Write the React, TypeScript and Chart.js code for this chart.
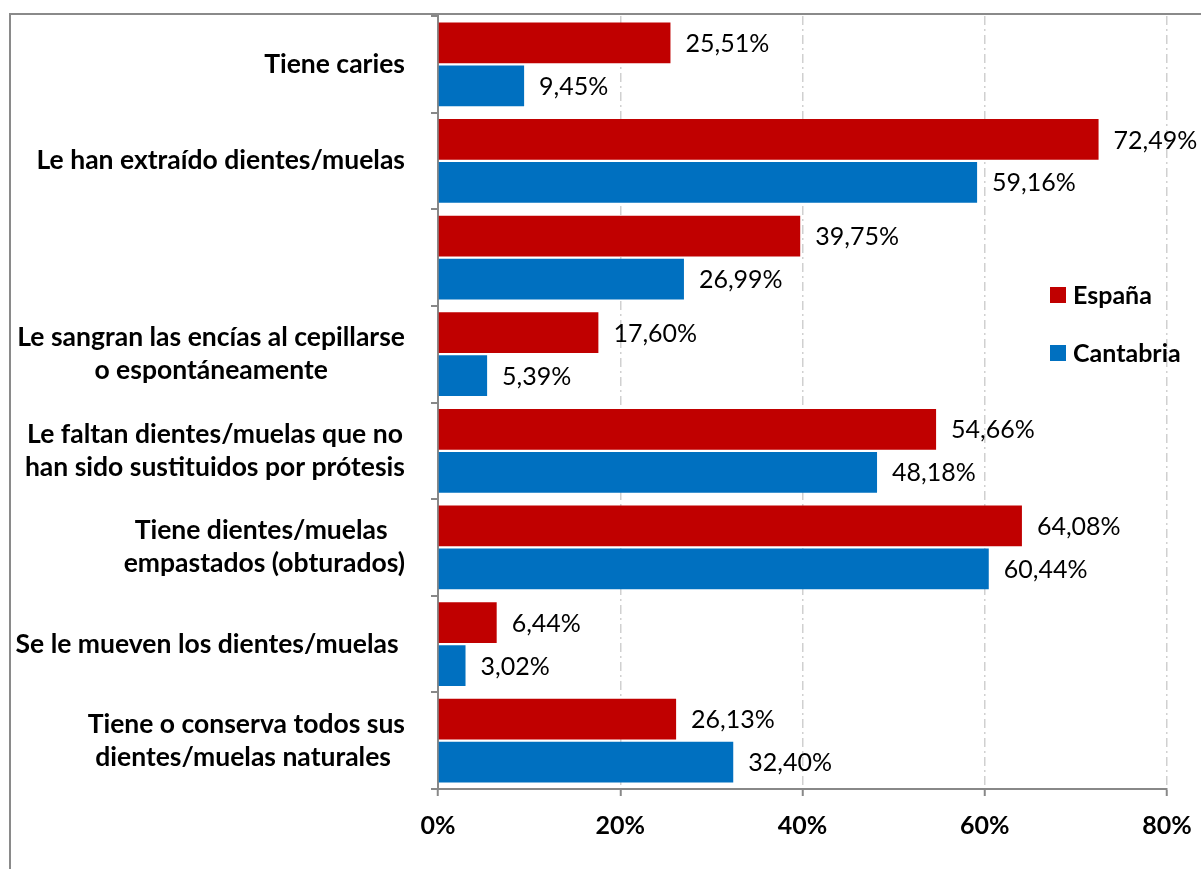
import React, { useEffect, useRef } from "react";
import { Chart, registerables } from "chart.js";

Chart.register(...registerables);

const categories: string[][] = [
  ["Tiene caries"],
  ["Le han extraído dientes/muelas"],
  [""],
  ["Le sangran las encías al cepillarse", "o espontáneamente"],
  ["Le faltan dientes/muelas que no", "han sido sustituidos por prótesis"],
  ["Tiene dientes/muelas ", "empastados (obturados)"],
  ["Se le mueven los dientes/muelas "],
  ["Tiene o conserva todos sus", "dientes/muelas naturales "],
];
const seriesNames = ["España", "Cantabria"];
const espana = [25.51, 72.49, 39.75, 17.6, 54.66, 64.08, 6.44, 26.13];
const cantabria = [9.45, 59.16, 26.99, 5.39, 48.18, 60.44, 3.02, 32.4];
const xMin = 0;
const xMax = 80;
const xStep = 20;

const RED = "#C00000";
const BLUE = "#0070C0";
const AXIS = "#888888";
const FONT = "Lato, 'Open Sans', sans-serif";

const fmt = (v: number) => v.toFixed(2).replace(".", ",") + "%";

const framePlugin = {
  id: "frame",
  beforeDraw(chart: any) {
    const ctx = chart.ctx;
    ctx.save();
    ctx.strokeStyle = "#8a8a8a";
    ctx.lineWidth = 2;
    ctx.beginPath();
    ctx.moveTo(10, chart.height);
    ctx.lineTo(10, 14);
    ctx.lineTo(chart.width, 14);
    ctx.stroke();
    ctx.restore();
  },
};

const yLabelPlugin = {
  id: "yLabels",
  afterDraw(chart: any) {
    const ctx = chart.ctx;
    const ys = chart.scales.y;
    ctx.save();
    ctx.font = `bold 26.5px ${FONT}`;
    ctx.fillStyle = "#000";
    ctx.textAlign = "center";
    ctx.textBaseline = "middle";
    const rightEdge = ys.right - 33;
    const lh = 33;
    (chart.data.labels as string[][]).forEach((lines, i) => {
      const yc = ys.getPixelForValue(i);
      const maxW = Math.max(...lines.map((l) => ctx.measureText(l).width));
      const cx = rightEdge - maxW / 2;
      lines.forEach((l, j) => {
        ctx.fillText(l, cx, yc + (j - (lines.length - 1) / 2) * lh);
      });
    });
    ctx.restore();
  },
};

const dataLabelPlugin = {
  id: "dataLabels",
  afterDatasetsDraw(chart: any) {
    const ctx = chart.ctx;
    ctx.save();
    ctx.font = `25px ${FONT}`;
    ctx.fillStyle = "#000";
    ctx.textAlign = "left";
    ctx.textBaseline = "middle";
    chart.data.datasets.forEach((ds: any, di: number) => {
      const meta = chart.getDatasetMeta(di);
      meta.data.forEach((bar: any, i: number) => {
        ctx.fillText(fmt(ds.data[i]), bar.x + 15, bar.y + 1);
      });
    });
    ctx.restore();
  },
};

const legendPlugin = {
  id: "customLegend",
  afterDraw(chart: any) {
    const ctx = chart.ctx;
    ctx.save();
    ctx.font = `bold 25px ${FONT}`;
    ctx.textAlign = "left";
    ctx.textBaseline = "middle";
    const x = 1050;
    const ys = [295, 353];
    chart.data.datasets.forEach((ds: any, i: number) => {
      ctx.fillStyle = ds.backgroundColor;
      ctx.fillRect(x, ys[i] - 8, 16, 16);
      ctx.fillStyle = "#000";
      ctx.fillText(ds.label, x + 23, ys[i] + 1);
    });
    ctx.restore();
  },
};

export default function App() {
  const ref = useRef<HTMLCanvasElement | null>(null);
  useEffect(() => {
    if (!ref.current) return;
    const chart = new Chart(ref.current, {
      type: "bar",
      data: {
        labels: categories as any,
        datasets: [
          {
            label: seriesNames[0],
            data: espana,
            backgroundColor: RED,
            categoryPercentage: 0.89,
            barPercentage: 0.95,
          },
          {
            label: seriesNames[1],
            data: cantabria,
            backgroundColor: BLUE,
            categoryPercentage: 0.89,
            barPercentage: 0.95,
          },
        ],
      },
      options: {
        indexAxis: "y",
        animation: false,
        responsive: true,
        maintainAspectRatio: false,
        layout: { padding: { left: 0, top: 16, right: 34, bottom: 0 } },
        plugins: {
          legend: { display: false },
          tooltip: { enabled: false },
        },
        scales: {
          x: {
            type: "linear",
            min: xMin,
            max: xMax,
            afterFit(scale: any) {
              scale.height = 80;
              scale.paddingRight = 0;
              scale.paddingLeft = 0;
            },
            ticks: {
              stepSize: xStep,
              padding: 15,
              color: "#000",
              font: { family: FONT, size: 25, weight: "bold" },
              callback: (v: any) => v + "%",
            },
            grid: {
              color: "#d0d0d0",
              lineWidth: 1.5,
              drawTicks: true,
              tickLength: 7,
              tickColor: AXIS,
              tickWidth: 2,
            },
            border: { display: true, color: AXIS, width: 2, dash: [9, 4, 2, 4] },
          },
          y: {
            type: "category",
            afterFit(scale: any) {
              scale.width = 438;
            },
            ticks: { display: false },
            grid: {
              drawOnChartArea: false,
              drawTicks: true,
              tickLength: 7,
              color: AXIS,
              lineWidth: 2,
            },
            border: { display: true, color: AXIS, width: 2 },
          },
        },
      },
      plugins: [framePlugin, yLabelPlugin, dataLabelPlugin, legendPlugin],
    });
    return () => chart.destroy();
  }, []);
  return (
    <div style={{ position: "absolute", left: 0, top: 0, width: 1201, height: 869 }}>
      <canvas ref={ref} style={{ width: "100%", height: "100%" }} />
    </div>
  );
}
